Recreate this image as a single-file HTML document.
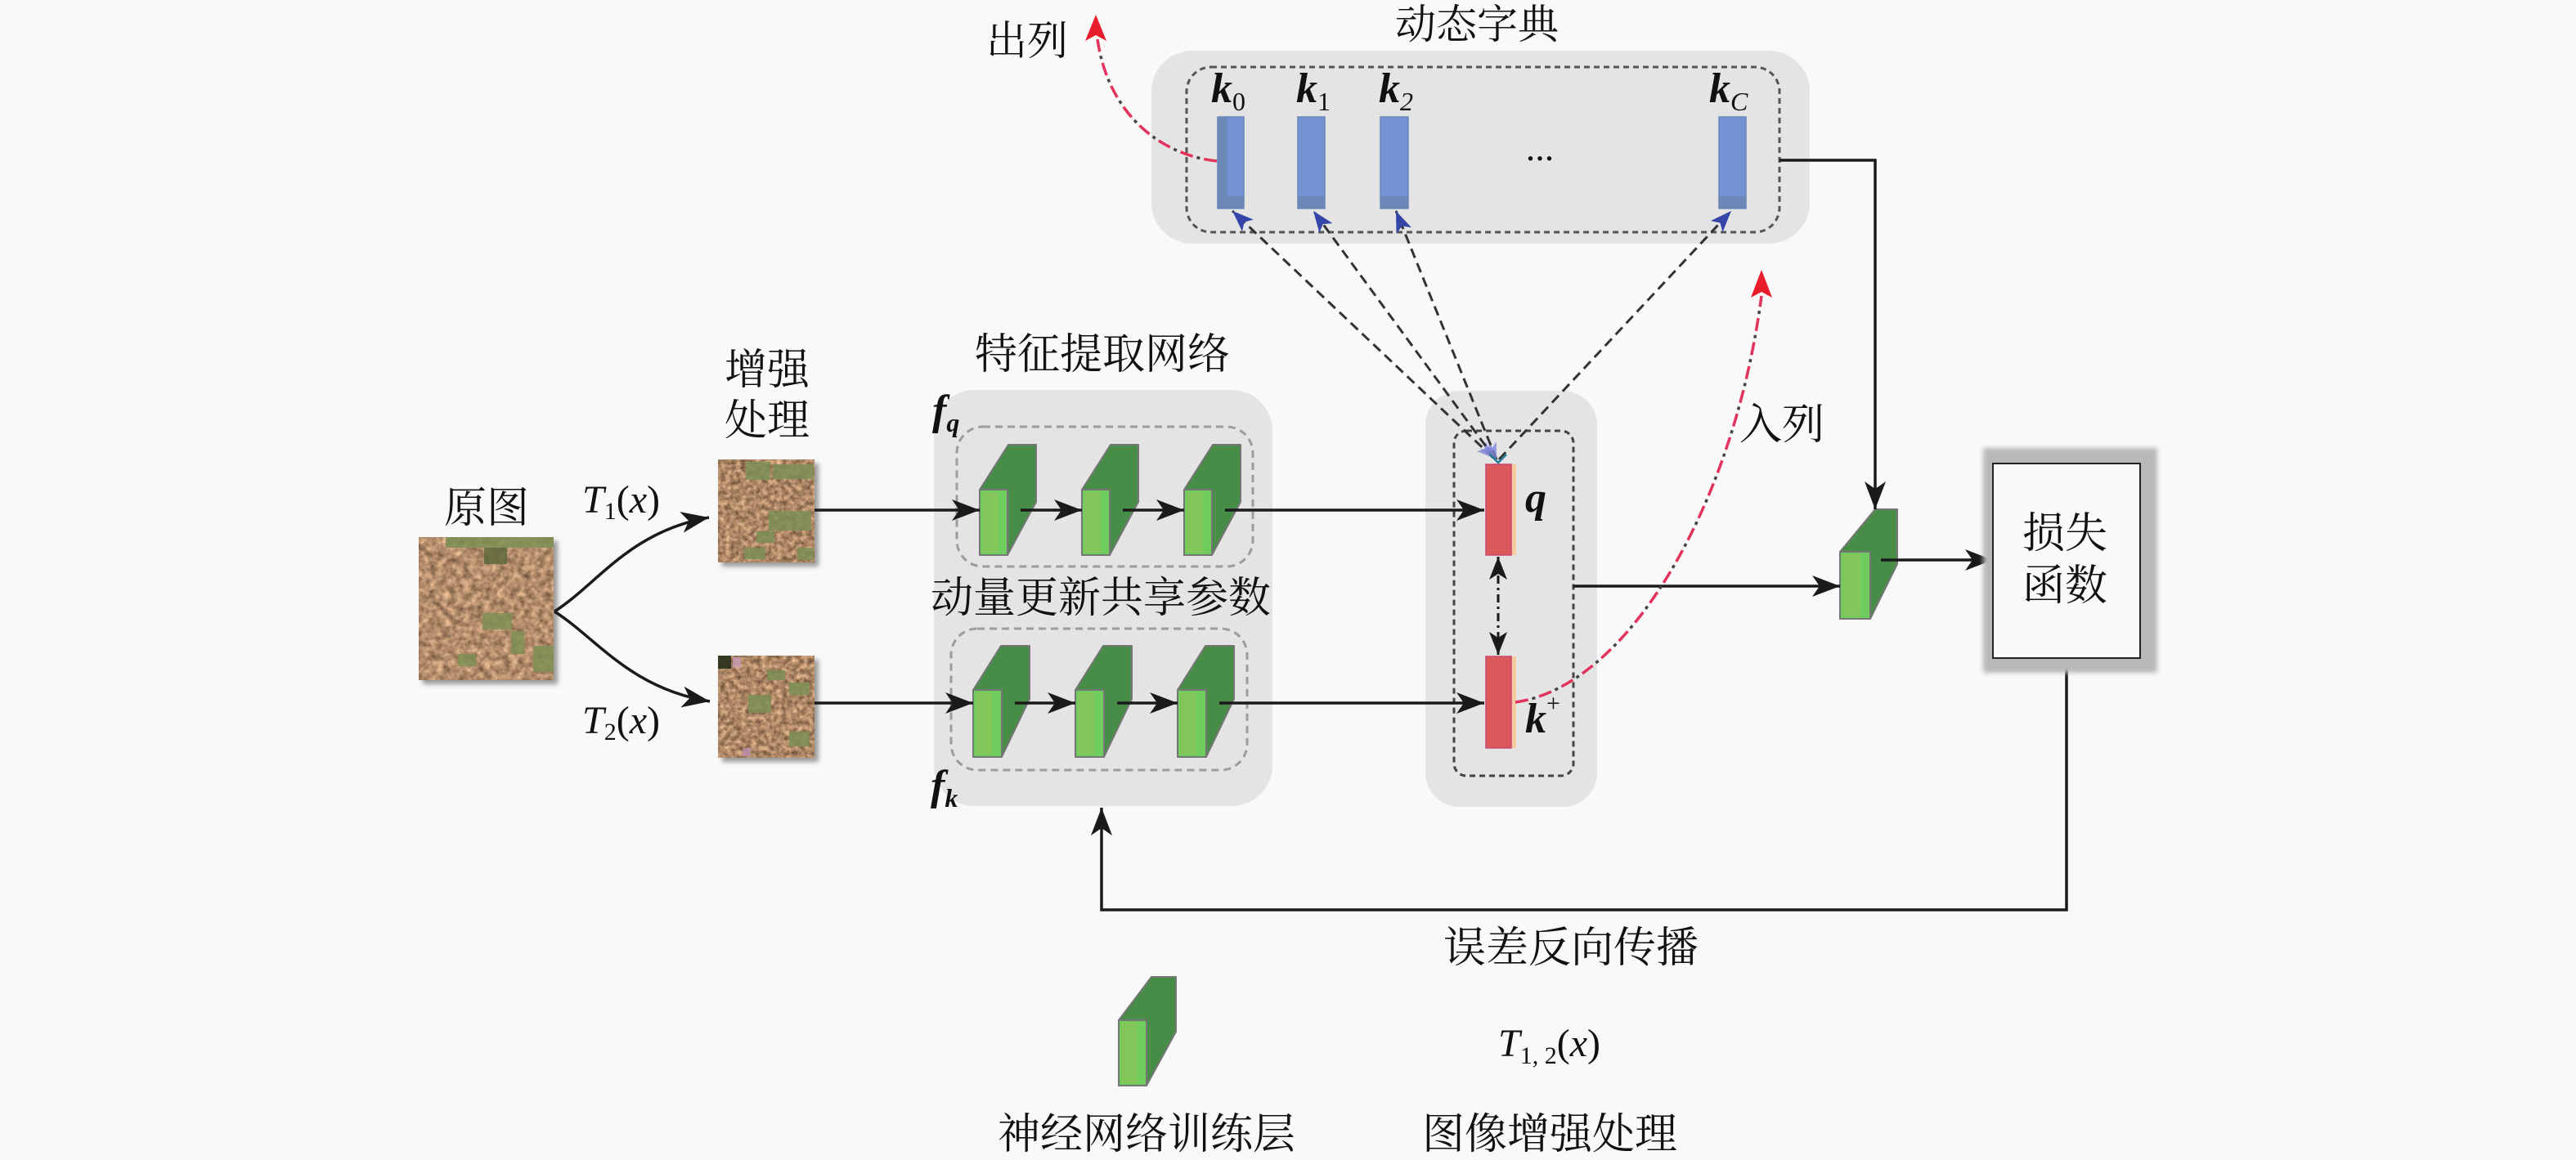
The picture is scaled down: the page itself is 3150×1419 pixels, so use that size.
<!DOCTYPE html>
<html>
<head>
<meta charset="utf-8">
<style>
html,body{margin:0;padding:0;background:#f9f9f9;}
svg{display:block;}
</style>
</head>
<body>
<svg xmlns="http://www.w3.org/2000/svg" width="3150" height="1419" viewBox="0 0 3150 1419">
<defs>
  <marker id="ah" markerUnits="userSpaceOnUse" markerWidth="36" markerHeight="28" refX="34" refY="14" orient="auto">
    <path d="M0,1 L34,14 L0,27 L9,14 z" fill="#1a1a1a"/>
  </marker>
  <marker id="ah2" markerUnits="userSpaceOnUse" markerWidth="30" markerHeight="24" refX="28" refY="12" orient="auto-start-reverse">
    <path d="M0,1 L28,12 L0,23 L7,12 z" fill="#1a1a1a"/>
  </marker>
  <marker id="bh" markerUnits="userSpaceOnUse" markerWidth="28" markerHeight="22" refX="26" refY="11" orient="auto">
    <path d="M0,1 L26,11 L0,21 L6,11 z" fill="#3546a8"/>
  </marker>
  <marker id="bs" markerUnits="userSpaceOnUse" markerWidth="22" markerHeight="18" refX="20" refY="9" orient="auto-start-reverse">
    <path d="M0,1 L20,9 L0,17 L5,9 z" fill="#7f86d8" opacity="0.8"/>
  </marker>
  <marker id="rh" markerUnits="userSpaceOnUse" markerWidth="34" markerHeight="28" refX="32" refY="14" orient="auto">
    <path d="M0,1 L32,14 L0,27 L7,14 z" fill="#e81c2a"/>
  </marker>
  <filter id="soil" x="0" y="0" width="1" height="1" color-interpolation-filters="sRGB">
    <feTurbulence type="fractalNoise" baseFrequency="0.12" numOctaves="3" seed="7"/>
    <feColorMatrix type="matrix" values="0.7 0 0 0 0.35  0.6 0 0 0 0.25  0.5 0 0 0 0.17  0 0 0 0 1"/>
  </filter>
  <filter id="soil2" x="0" y="0" width="1" height="1" color-interpolation-filters="sRGB">
    <feTurbulence type="fractalNoise" baseFrequency="0.16" numOctaves="3" seed="11"/>
    <feColorMatrix type="matrix" values="0.7 0 0 0 0.33  0.6 0 0 0 0.23  0.5 0 0 0 0.15  0 0 0 0 1"/>
  </filter>
  <filter id="blur" x="-20%" y="-20%" width="140%" height="140%">
    <feGaussianBlur stdDeviation="3"/>
  </filter>
</defs>

<rect x="0" y="0" width="3150" height="1419" fill="#f9f9f9"/>

<!-- ===== group boxes ===== -->
<rect x="1408" y="62" width="805" height="236" rx="50" fill="#e4e4e4"/>
<rect x="1451" y="82" width="725" height="202" rx="30" fill="none" stroke="#555" stroke-width="3" stroke-dasharray="7 5"/>

<rect x="1142" y="477" width="414" height="509" rx="50" fill="#e4e4e4"/>
<rect x="1170" y="522" width="362" height="171" rx="32" fill="none" stroke="#9c9c9c" stroke-width="3" stroke-dasharray="9 6"/>
<rect x="1163" y="769" width="362" height="173" rx="32" fill="none" stroke="#9c9c9c" stroke-width="3" stroke-dasharray="9 6"/>

<rect x="1743" y="478" width="210" height="509" rx="42" fill="#e4e4e4"/>
<rect x="1778" y="527" width="146" height="422" rx="15" fill="none" stroke="#444" stroke-width="3" stroke-dasharray="7 5"/>

<!-- ===== soil images ===== -->
<rect x="517" y="662" width="165" height="175" fill="#9a9a9a" filter="url(#blur)"/>
<rect x="512" y="657" width="165" height="175" fill="#b48a68" filter="url(#soil)"/>
<g fill="#7f9054" opacity="0.85">
  <rect x="545" y="657" width="132" height="13"/>
  <rect x="592" y="670" width="28" height="20" fill="#5e6a3c"/>
  <rect x="590" y="750" width="36" height="20"/>
  <rect x="625" y="772" width="16" height="28"/>
  <rect x="560" y="800" width="22" height="15"/>
  <rect x="652" y="790" width="25" height="32"/>
</g>

<rect x="883" y="567" width="118" height="126" fill="#9a9a9a" filter="url(#blur)"/>
<rect x="878" y="562" width="118" height="126" fill="#b48a68" filter="url(#soil2)"/>
<g fill="#7c8f55" opacity="0.85">
  <rect x="912" y="565" width="30" height="22"/>
  <rect x="945" y="568" width="50" height="18"/>
  <rect x="940" y="625" width="52" height="24"/>
  <rect x="925" y="650" width="22" height="14"/>
  <rect x="910" y="670" width="26" height="14"/>
  <rect x="975" y="670" width="20" height="15"/>
</g>

<rect x="883" y="807" width="118" height="125" fill="#9a9a9a" filter="url(#blur)"/>
<rect x="878" y="802" width="118" height="125" fill="#b48a68" filter="url(#soil2)"/>
<g fill="#7c8f55" opacity="0.85">
  <rect x="878" y="802" width="16" height="16" fill="#1f2a15"/>
  <rect x="896" y="804" width="10" height="12" fill="#c79ab0"/>
  <rect x="938" y="820" width="22" height="12"/>
  <rect x="915" y="850" width="28" height="22"/>
  <rect x="965" y="835" width="25" height="15"/>
  <rect x="965" y="895" width="25" height="18"/>
  <rect x="908" y="915" width="10" height="10" fill="#b68aa4"/>
</g>

<!-- ===== 3D layer blocks ===== -->
<g stroke="#767676" stroke-width="2" stroke-linejoin="round">
  <polygon points="1198,599 1233,544 1267,544 1267,614 1232,679 1198,679" fill="#478c47"/>
  <rect x="1198" y="599" width="34" height="80" fill="#6fcc5e"/>
  <polygon points="1323,599 1358,544 1392,544 1392,614 1357,679 1323,679" fill="#478c47"/>
  <rect x="1323" y="599" width="34" height="80" fill="#6fcc5e"/>
  <polygon points="1448,599 1483,544 1517,544 1517,614 1482,679 1448,679" fill="#478c47"/>
  <rect x="1448" y="599" width="34" height="80" fill="#6fcc5e"/>
  <polygon points="1190,844 1224,790 1259,790 1259,855 1225,926 1190,926" fill="#478c47"/>
  <rect x="1190" y="844" width="35" height="82" fill="#6fcc5e"/>
  <polygon points="1315,844 1349,790 1384,790 1384,855 1350,926 1315,926" fill="#478c47"/>
  <rect x="1315" y="844" width="35" height="82" fill="#6fcc5e"/>
  <polygon points="1440,844 1474,790 1509,790 1509,855 1475,926 1440,926" fill="#478c47"/>
  <rect x="1440" y="844" width="35" height="82" fill="#6fcc5e"/>
  <polygon points="2250,675 2293,623 2320,623 2320,690 2287,757 2250,757" fill="#478c47"/>
  <rect x="2250" y="675" width="37" height="82" fill="#6fcc5e"/>
  <polygon points="1368,1248 1408,1195 1438,1195 1438,1262 1402,1328 1368,1328" fill="#478c47"/>
  <rect x="1368" y="1248" width="34" height="80" fill="#6fcc5e"/>
</g>
<g fill="#8cc55a" opacity="0.7">
  <rect x="1201" y="602" width="20" height="74"/>
  <rect x="1326" y="602" width="20" height="74"/>
  <rect x="1451" y="602" width="20" height="74"/>
  <rect x="1193" y="847" width="20" height="76"/>
  <rect x="1318" y="847" width="20" height="76"/>
  <rect x="1443" y="847" width="20" height="76"/>
  <rect x="2253" y="678" width="22" height="76"/>
  <rect x="1371" y="1251" width="20" height="74"/>
</g>

<!-- ===== dictionary key bars ===== -->
<g stroke="#6c86b8" stroke-width="1.5">
  <rect x="1489" y="143" width="32" height="112" fill="#7592d4"/>
  <rect x="1587" y="143" width="33" height="112" fill="#7592d4"/>
  <rect x="1688" y="143" width="34" height="112" fill="#7592d4"/>
  <rect x="2102" y="143" width="33" height="112" fill="#7592d4"/>
</g>
<g fill="#6a86b0" opacity="0.8">
  <rect x="1489" y="240" width="32" height="15"/>
  <rect x="1587" y="240" width="33" height="15"/>
  <rect x="1688" y="240" width="34" height="15"/>
  <rect x="2102" y="240" width="33" height="15"/>
  <rect x="1489" y="143" width="12" height="112"/>
</g>

<!-- q and k+ bars -->
<rect x="1848" y="568" width="6" height="111" fill="#f6cba2"/>
<rect x="1848" y="803" width="6" height="112" fill="#f6cba2"/>
<rect x="1817" y="568" width="31" height="111" fill="#db585c" stroke="#c8476a" stroke-width="1.5"/>
<rect x="1817" y="803" width="31" height="112" fill="#db585c" stroke="#c8476a" stroke-width="1.5"/>

<!-- ===== connectors ===== -->
<g fill="none" stroke="#1a1a1a" stroke-width="3.5">
  <path d="M678,748 C730,715 770,650 867,633" marker-end="url(#ah)"/>
  <path d="M678,748 C730,781 770,842 868,858" marker-end="url(#ah)"/>
  <line x1="996" y1="624" x2="1198" y2="624" marker-end="url(#ah)"/>
  <line x1="1248" y1="624" x2="1323" y2="624" marker-end="url(#ah)"/>
  <line x1="1373" y1="624" x2="1448" y2="624" marker-end="url(#ah)"/>
  <line x1="1498" y1="624" x2="1815" y2="624" marker-end="url(#ah)"/>
  <line x1="996" y1="860" x2="1190" y2="860" marker-end="url(#ah)"/>
  <line x1="1241" y1="860" x2="1315" y2="860" marker-end="url(#ah)"/>
  <line x1="1366" y1="860" x2="1440" y2="860" marker-end="url(#ah)"/>
  <line x1="1491" y1="860" x2="1815" y2="860" marker-end="url(#ah)"/>
  <line x1="1924" y1="717" x2="2250" y2="717" marker-end="url(#ah)"/>
  <line x1="2300" y1="685" x2="2437" y2="685" marker-end="url(#ah)"/>
  <polyline points="2176,196 2293,196 2293,623" marker-end="url(#ah)"/>
  <polyline points="2527,805 2527,1113 1347,1113 1347,988" marker-end="url(#ah)"/>
</g>

<line x1="1832" y1="681" x2="1832" y2="801" stroke="#1a1a1a" stroke-width="3" stroke-dasharray="10 5 3 5" marker-start="url(#ah2)" marker-end="url(#ah2)"/>

<g fill="none" stroke="#333" stroke-width="3" stroke-dasharray="12 7">
  <line x1="1826" y1="560" x2="1507" y2="258" marker-start="url(#bs)" marker-end="url(#bh)"/>
  <line x1="1828" y1="561" x2="1606" y2="258" marker-start="url(#bs)" marker-end="url(#bh)"/>
  <line x1="1830" y1="562" x2="1707" y2="258" marker-start="url(#bs)" marker-end="url(#bh)"/>
  <line x1="1833" y1="562" x2="2117" y2="258" marker-end="url(#bh)"/>
</g>
<path d="M1822,556 L1832,566 L1842,556" fill="none" stroke="#1f7f9a" stroke-width="2.5"/>

<path d="M1488,197 C1420,190 1355,140 1342,48" fill="none" stroke="#e2335c" stroke-width="3.5" stroke-dasharray="16 14"/>
<path d="M1488,197 C1420,190 1355,140 1342,48" fill="none" stroke="#444" stroke-width="3.5" stroke-dasharray="4 26" stroke-dashoffset="-21"/>
<path d="M1853,859 C1990,840 2120,620 2154,362" fill="none" stroke="#e2335c" stroke-width="3.5" stroke-dasharray="16 14"/>
<path d="M1853,859 C1990,840 2120,620 2154,362" fill="none" stroke="#444" stroke-width="3.5" stroke-dasharray="4 26" stroke-dashoffset="-21"/>
<path d="M2154,330 L2141,364 L2154,357 L2167,364 z" fill="#e81c2a"/>
<path d="M1340,18 L1327,50 L1340,43 L1353,50 z" fill="#e81c2a"/>

<!-- ===== loss box ===== -->
<rect x="2425" y="548" width="213" height="275" fill="#b8b8b8" filter="url(#blur)"/>
<rect x="2437" y="567" width="180" height="238" fill="#fafafa" stroke="#222" stroke-width="2"/>

<!-- ===== texts ===== -->
<g font-family="'Liberation Serif','Noto Serif CJK SC','Noto Sans CJK SC',serif" font-size="52" fill="#111">
  <text x="1806" y="47" text-anchor="middle" font-size="50">动态字典</text>
  <text x="1256" y="67" text-anchor="middle" font-size="50">出列</text>
  <text x="595" y="639" text-anchor="middle">原图</text>
  <text x="938" y="470" text-anchor="middle">增强</text>
  <text x="938" y="532" text-anchor="middle">处理</text>
  <text x="1348" y="451" text-anchor="middle">特征提取网络</text>
  <text x="1346" y="749" text-anchor="middle">动量更新共享参数</text>
  <text x="2179" y="537" text-anchor="middle">入列</text>
  <text x="2525" y="670" text-anchor="middle">损失</text>
  <text x="2525" y="734" text-anchor="middle">函数</text>
  <text x="1921" y="1177" text-anchor="middle">误差反向传播</text>
  <text x="1402" y="1405" text-anchor="middle">神经网络训练层</text>
  <text x="1895" y="1405" text-anchor="middle">图像增强处理</text>
</g>

<g font-family="'Liberation Serif',serif" fill="#111">
  <text x="712" y="627" font-size="48"><tspan font-style="italic">T</tspan><tspan font-size="30" dy="8">1</tspan><tspan dy="-8">(</tspan><tspan font-style="italic">x</tspan>)</text>
  <text x="712" y="897" font-size="48"><tspan font-style="italic">T</tspan><tspan font-size="30" dy="8">2</tspan><tspan dy="-8">(</tspan><tspan font-style="italic">x</tspan>)</text>
  <text x="1832" y="1292" font-size="48"><tspan font-style="italic">T</tspan><tspan font-size="30" dy="9">1, 2</tspan><tspan dy="-9">(</tspan><tspan font-style="italic">x</tspan>)</text>

  <text x="1140" y="519" font-size="52" font-weight="bold" font-style="italic">f<tspan font-size="32" dy="9">q</tspan></text>
  <text x="1138" y="978" font-size="52" font-weight="bold" font-style="italic">f<tspan font-size="32" dy="9">k</tspan></text>

  <text x="1481" y="125" font-size="52" font-weight="bold" font-style="italic">k<tspan font-size="32" font-weight="normal" font-style="normal" dy="10">0</tspan></text>
  <text x="1585" y="125" font-size="52" font-weight="bold" font-style="italic">k<tspan font-size="32" font-weight="normal" font-style="normal" dy="10">1</tspan></text>
  <text x="1686" y="125" font-size="52" font-weight="bold" font-style="italic">k<tspan font-size="32" font-weight="normal" font-style="italic" dy="10">2</tspan></text>
  <text x="2090" y="125" font-size="52" font-weight="bold" font-style="italic">k<tspan font-size="32" font-weight="normal" font-style="italic" dy="10">C</tspan></text>
  <text x="1883" y="196" font-size="46" text-anchor="middle">...</text>

  <text x="1865" y="626" font-size="52" font-weight="bold" font-style="italic">q</text>
  <text x="1865" y="896" font-size="52" font-weight="bold" font-style="italic">k<tspan font-size="30" font-weight="normal" font-style="normal" dy="-26">+</tspan></text>
</g>
</svg>
</body>
</html>
